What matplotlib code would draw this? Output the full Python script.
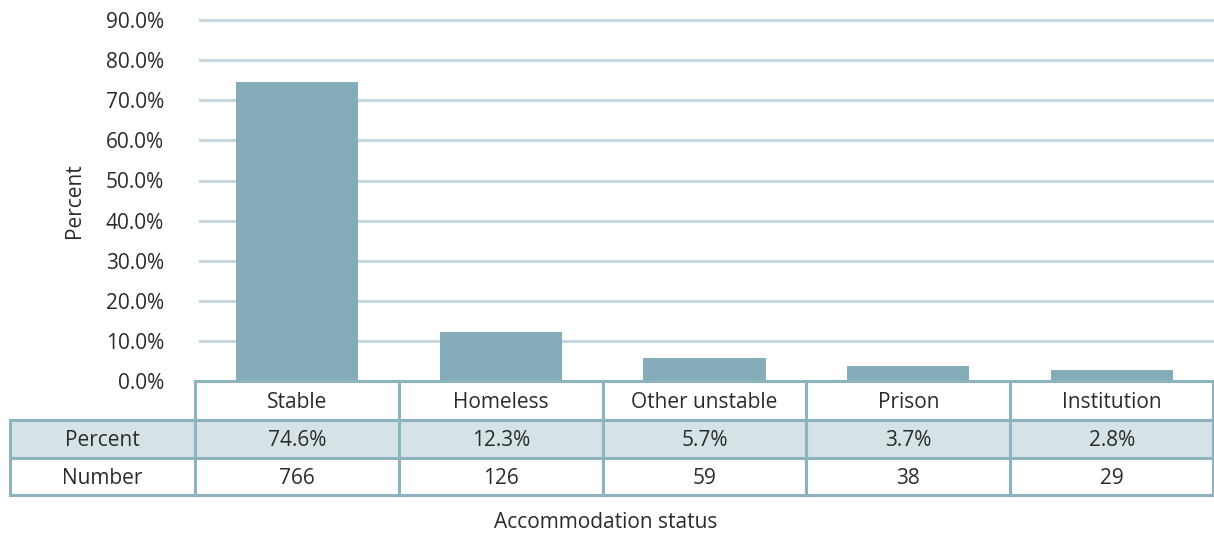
import matplotlib
matplotlib.use('Agg')
import matplotlib.pyplot as plt
from matplotlib.patches import Rectangle

# data
categories = ["Stable", "Homeless", "Other unstable", "Prison", "Institution"]
percent = [74.6, 12.3, 5.7, 3.7, 2.8]
number = [766, 126, 59, 38, 29]
yticks = [0, 10, 20, 30, 40, 50, 60, 70, 80, 90]

plt.rcParams['font.family'] = ['Open Sans', 'DejaVu Sans']
TXT = "#2b2b2b"
BAR = "#84adb9"
GRID = "#c6d7dd"
BORDER = "#8db3be"
FILL = "#d5e2e6"
FS = 15

W, H = 1214, 533
fig = plt.figure(figsize=(W / 100, H / 100), dpi=100)

# pixel layout
x0, x1 = 195, 1214
y_zero, y_top = 381, 12
px10 = 40.1
ymax = (y_zero - y_top) / px10 * 10

ax = fig.add_axes([x0 / W, 1 - y_zero / H, (x1 - x0) / W, (y_zero - y_top) / H])
n = len(categories)
xs = [i + 0.5 for i in range(n)]
for t in yticks[1:]:
    ax.axhline(t, xmin=5 / (x1 - x0), xmax=1, color=GRID, lw=2.2, zorder=0)
ax.bar(xs, percent, width=0.6, color=BAR, zorder=2)
ax.set_xlim(0, n)
ax.set_ylim(0, ymax)
ax.set_yticks(yticks)
ax.set_yticklabels(["%.1f%%" % t for t in yticks], fontsize=FS, color=TXT)
ax.tick_params(axis='y', length=0, pad=22.3)
ax.set_xticks([])
for s in ax.spines.values():
    s.set_visible(False)
ax.set_ylabel("Percent", fontsize=FS, color=TXT)
ax.yaxis.set_label_coords(-(x0 - 85) / (x1 - x0), 0.5 * (y_zero - 20) / (y_zero - y_top))

# table overlay in pixel coordinates
tb = fig.add_axes([0, 0, 1, 1], zorder=5)
tb.set_xlim(0, W)
tb.set_ylim(H, 0)
tb.axis('off')

colw = (x1 - x0) / n
r0, r1, r2, r3 = 381, 420, 458, 495
lab_x0 = 10
lw = 2.2

tb.add_patch(Rectangle((lab_x0, r1), W - 1 - lab_x0, r2 - r1, facecolor=FILL, edgecolor='none'))
# horizontal lines
tb.plot([x0, W - 1], [r0, r0], color=BORDER, lw=lw)
for y in (r1, r2, r3):
    tb.plot([lab_x0, W - 1], [y, y], color=BORDER, lw=lw)
# vertical lines
tb.plot([lab_x0, lab_x0], [r1, r3], color=BORDER, lw=lw)
for i in range(n + 1):
    xe = min(x0 + i * colw, W - 1)
    tb.plot([xe, xe], [r0, r3], color=BORDER, lw=lw)

for i, c in enumerate(categories):
    cx = x0 + (i + 0.5) * colw
    tb.text(cx, (r0 + r1) / 2 + 2, c, ha='center', va='center', fontsize=FS, color=TXT)
    tb.text(cx, (r1 + r2) / 2 + 2, "%.1f%%" % percent[i], ha='center', va='center', fontsize=FS, color=TXT)
    tb.text(cx, (r2 + r3) / 2 + 2, str(number[i]), ha='center', va='center', fontsize=FS, color=TXT)
lx = (lab_x0 + x0) / 2
tb.text(lx, (r1 + r2) / 2 + 2, "Percent", ha='center', va='center', fontsize=FS, color=TXT)
tb.text(lx, (r2 + r3) / 2 + 2, "Number", ha='center', va='center', fontsize=FS, color=TXT)

tb.text(606, 522, "Accommodation status", ha='center', va='center', fontsize=FS, color=TXT)

fig.savefig("out.png", dpi=100)
